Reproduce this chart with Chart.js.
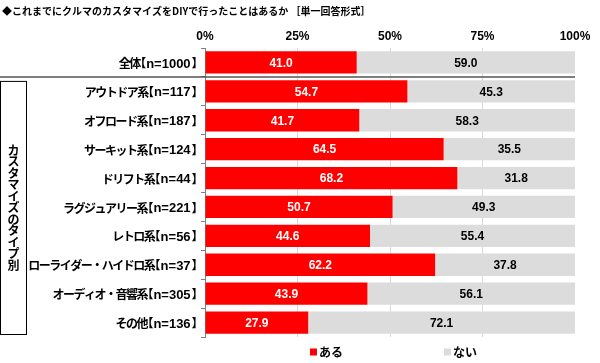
<!DOCTYPE html>
<html><head><meta charset="utf-8">
<script src="https://cdn.jsdelivr.net/npm/chart.js@4/dist/chart.umd.min.js"></script>
<style>html,body{margin:0;padding:0;background:#fff;}canvas{display:block;}</style>
</head><body>
<canvas id="c" width="600" height="363"></canvas>
<script>
const title = '◆これまでにクルマのカスタマイズをDIYで行ったことはあるか ［単一回答形式］';
const groupLabel = 'カスタマイズのタイプ別';
const categories = ['全体【n=1000】','アウトドア系【n=117】','オフロード系【n=187】','サーキット系【n=124】','ドリフト系【n=44】','ラグジュアリー系【n=221】','レトロ系【n=56】','ローライダー・ハイドロ系【n=37】','オーディオ・音響系【n=305】','その他【n=136】'];
const seriesNames = ['ある','ない'];
const aru = [41.0,54.7,41.7,64.5,68.2,50.7,44.6,62.2,43.9,27.9];
const nai = [59.0,45.3,58.3,35.5,31.8,49.3,55.4,37.8,56.1,72.1];
const xTicks = [0,25,50,75,100];

const FONT = "'Liberation Sans','Noto Sans CJK JP',sans-serif";
const JP = "'Noto Sans CJK JP',sans-serif";

function drawCategoryLabel(ctx, label, right, y){
  const m = label.match(/^(.*)【(.*)】$/);
  ctx.textAlign='left'; ctx.textBaseline='middle'; ctx.fillStyle='#000';
  if(!m){ ctx.font="bold 12px "+JP; ctx.textAlign='right'; ctx.fillText(label,right,y); return; }
  const fJ = "bold 12px "+JP, fN = "bold 13px 'Liberation Sans',sans-serif";
  ctx.font=fJ; ctx.letterSpacing='-1.5px';
  const wName = ctx.measureText(m[1]).width;
  ctx.letterSpacing='0px';
  ctx.font=fN; const wIn = ctx.measureText(m[2]).width;
  const br = 12*0.45;
  const total = wName + br + 1 + wIn + 1 + br;
  let x = right - total;
  ctx.font=fJ; ctx.letterSpacing='-1.5px'; ctx.fillText(m[1], x, y); x += wName;
  ctx.letterSpacing='0px';
  ctx.fillText('【', x - (12 - br) + 1, y); x += br + 1;
  ctx.font=fN; ctx.fillText(m[2], x, y+0.5); x += wIn + 1;
  ctx.font=fJ; ctx.fillText('】', x, y);
}

const extras = {
  id:'extras',
  afterDatasetsDraw(chart){
    const ctx = chart.ctx, ca = chart.chartArea;
    ctx.save();
    ctx.fillStyle='#000';
    ctx.font = "bold 10px "+JP;
    ctx.textAlign='left'; ctx.textBaseline='middle';
    ctx.fillText(title, 2, 11);
    const ys = chart.scales.y;
    chart.data.labels.forEach((lab,i)=>{ drawCategoryLabel(ctx, lab, 197, ys.getPixelForValue(i)+1); });
    ctx.letterSpacing='0px';
    ctx.font = "bold 12px "+FONT;
    ctx.textAlign='center';
    chart.data.datasets.forEach((ds,di)=>{
      const meta = chart.getDatasetMeta(di);
      meta.data.forEach((bar,i)=>{
        const x = (bar.x + bar.base)/2;
        ctx.fillStyle = di===0 ? '#fff' : '#000';
        ctx.fillText(ds.data[i].toFixed(1), x, bar.y+1);
      });
    });
    const sepY = (ys.getPixelForValue(0)+ys.getPixelForValue(1))/2;
    ctx.strokeStyle='#555'; ctx.lineWidth=1.5;
    ctx.beginPath(); ctx.moveTo(0,sepY); ctx.lineTo(ca.right,sepY); ctx.stroke();
    const top = sepY+4, bottom = ca.bottom-3;
    ctx.strokeStyle='#000'; ctx.lineWidth=1;
    ctx.strokeRect(0.5, top+0.5, 26, bottom-top);
    ctx.fillStyle='#000';
    ctx.font = "bold 12px "+JP;
    ctx.textAlign='center';
    const chars = Array.from(groupLabel);
    const step = 11.5;
    const cy = (top+bottom)/2;
    const start = cy - (chars.length-1)*step/2;
    chars.forEach((ch,k)=>{ ctx.fillText(ch, 13.5, start+k*step); });
    ctx.font = "bold 12px "+JP;
    ctx.textAlign='left';
    const ly = 352;
    const lx = [310, 444];
    chart.data.datasets.forEach((ds,di)=>{
      ctx.fillStyle = ds.backgroundColor;
      ctx.fillRect(lx[di], ly-3.5, 7, 7);
      ctx.fillStyle='#000';
      ctx.fillText(ds.label, lx[di]+9, ly);
    });
    ctx.restore();
  }
};

new Chart(document.getElementById('c'),{
  type:'bar',
  data:{
    labels:categories,
    datasets:[
      {label:seriesNames[0],data:aru,backgroundColor:'#FF0000',borderWidth:0},
      {label:seriesNames[1],data:nai,backgroundColor:'#DCDCDC',borderWidth:0}
    ]
  },
  options:{
    indexAxis:'y',
    responsive:false,
    animation:false,
    devicePixelRatio:1,
    layout:{padding:{top:20,right:25,left:0,bottom:26}},
    datasets:{bar:{categoryPercentage:1,barPercentage:0.77}},
    scales:{
      x:{
        position:'top',stacked:true,min:0,max:100,
        afterBuildTicks(s){ s.ticks = xTicks.map(v=>({value:v})); },
        afterFit(s){ s.height = 28; },
        ticks:{callback:v=>v+'%',color:'#000',font:{family:FONT,size:12,weight:'bold'},padding:4},
        grid:{color:ctx=> (ctx.tick && (ctx.tick.value===0||ctx.tick.value===100)) ? 'rgba(0,0,0,0)' : '#d9d9d9',drawTicks:false,lineWidth:1},
        border:{display:false}
      },
      y:{
        stacked:true,
        afterFit(s){ s.width = 205; },
        ticks:{display:false,autoSkip:false},
        grid:{offset:true,drawOnChartArea:false,drawTicks:true,tickLength:4,color:'#808080'},
        border:{display:true,color:'#808080',width:1}
      }
    },
    plugins:{
      legend:{display:false},
      tooltip:{enabled:false},
      title:{display:false}
    }
  },
  plugins:[extras]
});
</script>
</body></html>
